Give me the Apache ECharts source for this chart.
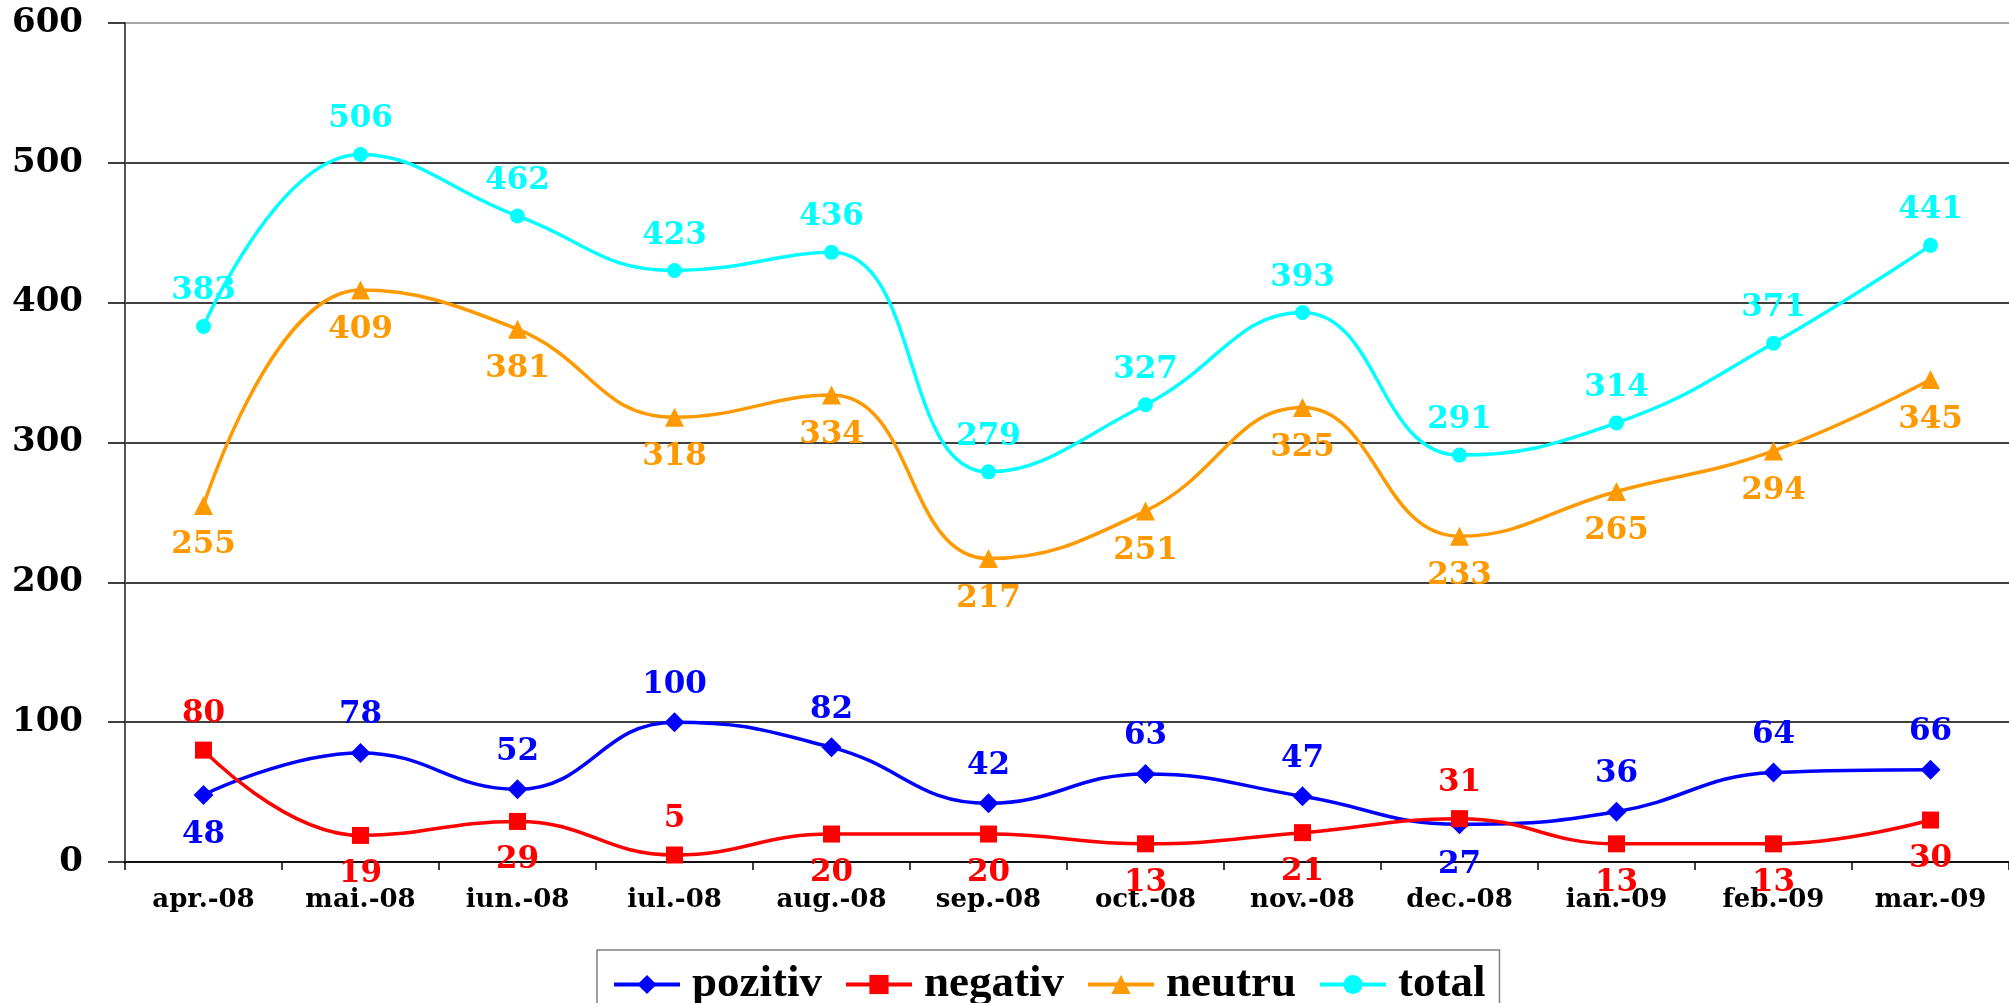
<!DOCTYPE html>
<html>
<head>
<meta charset="utf-8">
<script src="https://cdn.jsdelivr.net/npm/echarts@6/dist/echarts.min.js"></script>
<style>
  html, body { margin: 0; padding: 0; background: #fff; }
  #chart { width: 2009px; height: 1003px; }
</style>
</head>
<body>
<div id="chart"></div>
<script>
var months = ['apr.-08', 'mai.-08', 'iun.-08', 'iul.-08', 'aug.-08', 'sep.-08',
  'oct.-08', 'nov.-08', 'dec.-08', 'ian.-09', 'feb.-09', 'mar.-09'];
var pozitiv = [48, 78, 52, 100, 82, 42, 63, 47, 27, 36, 64, 66];
var negativ = [80, 19, 29, 5, 20, 20, 13, 21, 31, 13, 13, 30];
var neutru = [255, 409, 381, 318, 334, 217, 251, 325, 233, 265, 294, 345];
var total = [383, 506, 462, 423, 436, 279, 327, 393, 291, 314, 371, 441];

// where each value label sits (t = above, b = below)
var pozPos = 'btttttttbttt';
var negPos = 'tbbtbbbbtbbb';
var neuPos = 'bbbbbbbbbbbb';
var totPos = 'tttttttttttt';

var SERIF = "'Liberation Serif', 'Times New Roman', serif";
var WIDE = "'DejaVu Serif', 'Liberation Serif', serif";

function mkData(vals, pos) {
  return vals.map(function (v, i) {
    var p = pos.charAt(i) === 't' ? 'top' : 'bottom';
    return { value: v, label: { position: p, distance: p === 'top' ? 12 : 15 } };
  });
}

function mkSeries(name, vals, pos, color, symbol, size) {
  return {
    name: name,
    type: 'line',
    smooth: 0.45,
    data: mkData(vals, pos),
    symbol: symbol,
    symbolSize: size,
    itemStyle: { color: color },
    lineStyle: { color: color, width: 3.5 },
    label: {
      show: true,
      color: color,
      fontFamily: WIDE,
      fontWeight: 'bold',
      fontSize: 31
    }
  };
}

var chart = echarts.init(document.getElementById('chart'));
chart.setOption({
  animation: false,
  backgroundColor: '#fff',
  grid: { left: 125, top: 23, width: 1888, bottom: 141 },
  xAxis: {
    type: 'category',
    data: months,
    boundaryGap: true,
    axisLine: { lineStyle: { color: '#000', width: 1.5 } },
    axisTick: { show: true, length: 8, lineStyle: { color: '#000', width: 1.5 } },
    axisLabel: {
      color: '#000',
      fontFamily: WIDE,
      fontWeight: 'bold',
      fontSize: 26,
      margin: 25
    }
  },
  yAxis: {
    type: 'value',
    min: 0,
    max: 600,
    interval: 100,
    axisLine: { show: true, lineStyle: { color: '#555', width: 2 } },
    axisTick: { show: true, length: 17, lineStyle: { color: '#000', width: 1.5 } },
    splitLine: {
      lineStyle: { color: ['#000', '#000', '#000', '#000', '#000', '#000', '#888'], width: 1.5 }
    },
    axisLabel: {
      color: '#000',
      fontFamily: WIDE,
      fontWeight: 'bold',
      fontSize: 34,
      margin: 42
    }
  },
  legend: {
    left: 597,
    top: 950,
    width: 914,
    padding: [12, 14, 14, 15],
    borderColor: '#808080',
    borderWidth: 1.5,
    itemWidth: 66,
    itemHeight: 24,
    itemGap: 22,
    lineStyle: { width: 4 },
    textStyle: {
      color: '#000',
      fontFamily: SERIF,
      fontWeight: 'bold',
      fontSize: 45,
      padding: [0, 0, 0, 7]
    },
    data: ['pozitiv', 'negativ', 'neutru', 'total']
  },
  series: [
    mkSeries('pozitiv', pozitiv, pozPos, '#0000FF', 'diamond', 20),
    mkSeries('negativ', negativ, negPos, '#FF0000', 'rect', 17),
    mkSeries('neutru', neutru, neuPos, '#FF9900', 'triangle', 19),
    mkSeries('total', total, totPos, '#00FFFF', 'circle', 15)
  ]
});
</script>
</body>
</html>
